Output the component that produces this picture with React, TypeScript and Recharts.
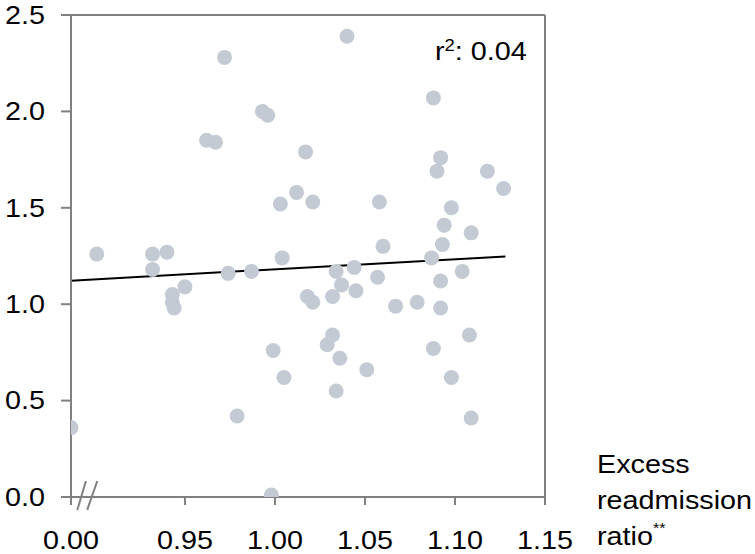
import React from "react";
import {
  ScatterChart,
  Scatter,
  XAxis,
  YAxis,
  ReferenceLine,
  ReferenceArea,
} from "recharts";

// Excess readmission ratio (x) vs. value (y); 0.00 is shown before the axis break
const ratioValues = [
  0.0, 0.901, 0.932, 0.94, 0.932, 0.943, 0.943, 0.944, 0.95, 0.962,
  0.967, 0.972, 0.974, 0.979, 0.987, 0.993, 0.996, 0.999, 0.998, 1.003,
  1.004, 1.005, 1.012, 1.017, 1.018, 1.021, 1.021, 1.029, 1.032, 1.032,
  1.034, 1.036, 1.034, 1.037, 1.04, 1.045, 1.044, 1.051, 1.057, 1.058,
  1.06, 1.067, 1.079, 1.087, 1.088, 1.088, 1.09, 1.092, 1.092, 1.092,
  1.093, 1.094, 1.098, 1.098, 1.104, 1.108, 1.109, 1.109, 1.118, 1.127,
];
const outcomeValues = [
  0.36, 1.26, 1.26, 1.27, 1.18, 1.05, 1.01, 0.98, 1.09, 1.85,
  1.84, 2.28, 1.16, 0.42, 1.17, 2.0, 1.98, 0.76, 0.01, 1.52,
  1.24, 0.62, 1.58, 1.79, 1.04, 1.01, 1.53, 0.79, 0.84, 1.04,
  1.17, 0.72, 0.55, 1.1, 2.39, 1.07, 1.19, 0.66, 1.14, 1.53,
  1.3, 0.99, 1.01, 1.24, 0.77, 2.07, 1.69, 1.76, 1.12, 0.98,
  1.31, 1.41, 1.5, 0.62, 1.17, 0.84, 0.41, 1.37, 1.69, 1.6,
];
const fitLine = [
  { ratio: 0.0, value: 1.122 },
  { ratio: 1.128, value: 1.248 },
];
const xTickValues = [0.0, 0.95, 1.0, 1.05, 1.1, 1.15];
const yTickValues = [0, 0.5, 1.0, 1.5, 2.0, 2.5];
const rSquaredLabel = "0.04";
const axisTitleLines = ["Excess", "readmission", "ratio"];

// Axis break: 0.00 is placed just left of the broken segment
const BREAK_POS = 0.8867;
const toAxis = (v: number) => (v < 0.5 ? BREAK_POS : v);

const scatterData = ratioValues.map((r, i) => ({
  x: toAxis(r),
  y: outcomeValues[i],
}));
const xTicks = xTickValues.map(toAxis);

const AXIS = "#808080";
const DOT = "#c3cad4";
const FONT = "'Liberation Sans', Arial, Helvetica, sans-serif";
const STRETCH = 1.15;

const XTick = (props: any) => {
  const { x, y, payload } = props;
  const v = payload.value;
  const label = v < 0.9 ? "0.00" : v.toFixed(2);
  return (
    <g transform={`translate(${x},${y})`}>
      <text
        transform={`scale(${STRETCH},1)`}
        textAnchor="middle"
        dy="0.71em"
        fontSize={25}
        fontFamily={FONT}
        fill="#000"
      >
        {label}
      </text>
    </g>
  );
};

const YTick = (props: any) => {
  const { x, y, payload } = props;
  return (
    <g transform={`translate(${x},${y})`}>
      <text
        transform={`scale(${STRETCH},1)`}
        textAnchor="end"
        dy="0.355em"
        fontSize={25}
        fontFamily={FONT}
        fill="#000"
      >
        {Number(payload.value).toFixed(1)}
      </text>
    </g>
  );
};

const Dot = (props: any) => {
  const { cx, cy } = props;
  if (cx == null || cy == null) return null;
  return <circle cx={cx} cy={cy} r={7.5} fill={DOT} />;
};

export default function App() {
  return (
    <div
      style={{
        position: "absolute",
        left: 0,
        top: 0,
        width: 755,
        height: 554,
        background: "#fff",
        fontFamily: FONT,
      }}
    >
      <ScatterChart
        width={755}
        height={554}
        margin={{ top: 15, right: 210, bottom: 0, left: 0 }}
      >
        <XAxis
          type="number"
          dataKey="x"
          domain={[BREAK_POS, 1.15]}
          ticks={xTicks}
          allowDataOverflow
          height={57}
          stroke={AXIS}
          strokeWidth={2}
          tickSize={8}
          tickMargin={26}
          tick={<XTick />}
          interval={0}
        />
        <YAxis
          type="number"
          dataKey="y"
          domain={[0, 2.5]}
          ticks={yTickValues}
          allowDataOverflow
          width={71}
          stroke={AXIS}
          strokeWidth={2}
          tickSize={10}
          tickMargin={16}
          tick={<YTick />}
          interval={0}
        />
        <ReferenceLine y={2.5} stroke={AXIS} strokeWidth={2} ifOverflow="visible" />
        <ReferenceLine x={1.15} stroke={AXIS} strokeWidth={2} ifOverflow="visible" />
        <Scatter
          data={scatterData}
          shape={<Dot />}
          isAnimationActive={false}
        />
        <ReferenceLine
          segment={[
            { x: toAxis(fitLine[0].ratio), y: fitLine[0].value },
            { x: fitLine[1].ratio, y: fitLine[1].value },
          ]}
          stroke="#000"
          strokeWidth={2}
          ifOverflow="visible"
        />
        <ReferenceArea
          x1={0.8917}
          x2={0.8989}
          y1={-0.015}
          y2={0.015}
          fill="#fff"
          fillOpacity={1}
          stroke="none"
          ifOverflow="visible"
        />
        <ReferenceLine
          segment={[
            { x: 0.8902, y: -0.067 },
            { x: 0.895, y: 0.083 },
          ]}
          stroke={AXIS}
          strokeWidth={2}
          ifOverflow="visible"
        />
        <ReferenceLine
          segment={[
            { x: 0.8957, y: -0.067 },
            { x: 0.9013, y: 0.083 },
          ]}
          stroke={AXIS}
          strokeWidth={2}
          ifOverflow="visible"
        />
      </ScatterChart>

      <div
        style={{
          position: "absolute",
          right: 228,
          top: 33,
          fontSize: 25,
          lineHeight: "36px",
          color: "#000",
          whiteSpace: "nowrap",
          transform: `scaleX(${STRETCH})`,
          transformOrigin: "right center",
        }}
      >
        r
        <span style={{ fontSize: 16, position: "relative", top: -9 }}>2</span>
        : {rSquaredLabel}
      </div>

      <div
        style={{
          position: "absolute",
          left: 597,
          top: 446,
          fontSize: 25,
          lineHeight: "36px",
          color: "#000",
          whiteSpace: "nowrap",
          transform: `scaleX(${STRETCH})`,
          transformOrigin: "left center",
        }}
      >
        {axisTitleLines.map((line, i) => (
          <div key={i}>
            {line}
            {i === axisTitleLines.length - 1 ? (
              <span style={{ fontSize: 14, position: "relative", top: -12 }}>**</span>
            ) : null}
          </div>
        ))}
      </div>
    </div>
  );
}
